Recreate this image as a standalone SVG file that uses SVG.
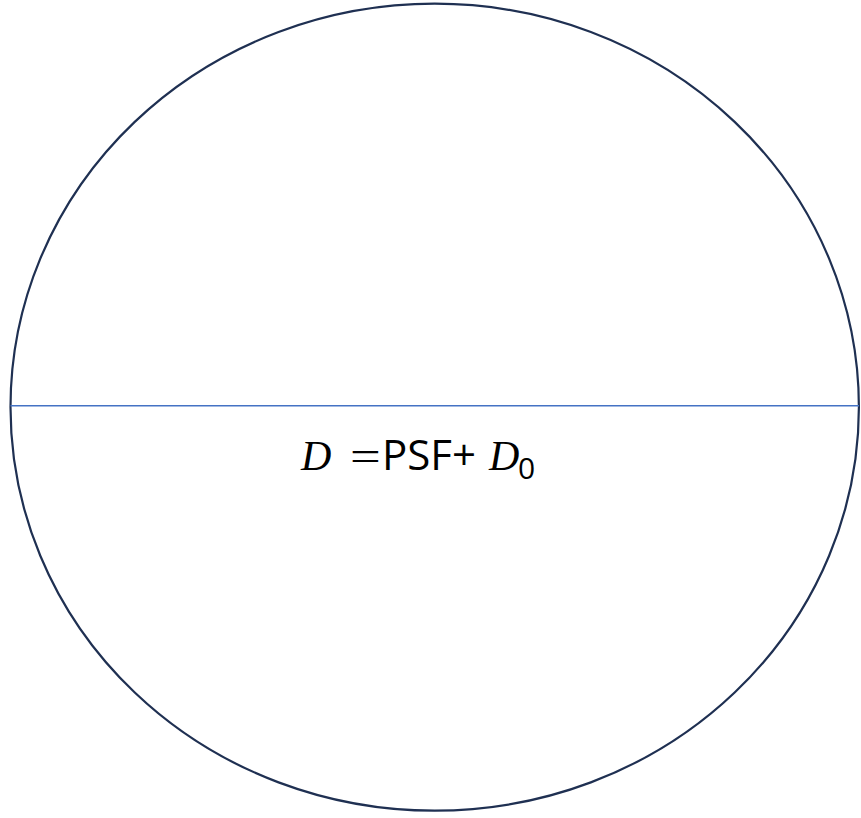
<svg xmlns="http://www.w3.org/2000/svg" width="861" height="818" viewBox="0 0 861 818">
<style>
.m{font-family:"Liberation Serif","DejaVu Serif",serif;font-style:italic;font-size:42px;fill:#000}
.s{font-family:"Open Sans","Liberation Sans",sans-serif;font-size:42px;fill:#000}
</style>
<rect width="861" height="818" fill="#fff"/>
<g id="circle">
<ellipse cx="434.7" cy="407.2" rx="424.2" ry="403.5" fill="none" stroke="#1F3052" stroke-width="2.2"/>
</g>
<g id="connectors">
<line x1="10.5" y1="405.8" x2="859" y2="405.8" stroke="#4472C4" stroke-width="1.4"/>
</g>
<g id="label">
<text class="m" x="301" y="470">D</text>
<text transform="translate(350,470) scale(1.3,1)" style="font-family:'Liberation Serif',serif;font-size:42px">=</text>
<text class="s" x="382" y="470">PSF+</text>
<text class="m" x="489" y="470">D</text>
<text class="s" x="518" y="479" style="font-size:30px">0</text>
</g>
</svg>
